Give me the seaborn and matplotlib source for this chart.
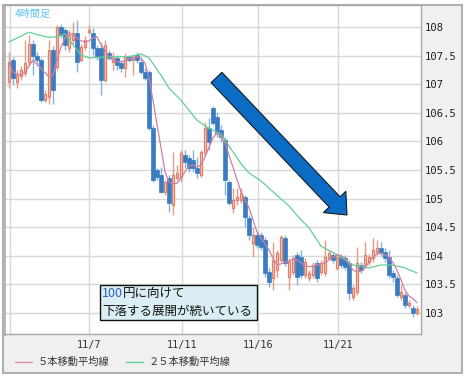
import numpy as np
import pandas as pd
import matplotlib
matplotlib.use("Agg")
import matplotlib.pyplot as plt
import seaborn as sns
from matplotlib.patches import Rectangle, Polygon

# ---------------- data (4h USD/JPY candles) ----------------
opens = [107.04, 107.42, 107.04, 107.14, 107.20, 107.39, 107.70, 107.49, 107.42, 106.72,
         106.78, 107.60, 107.30, 108.00, 107.95, 107.63, 107.77, 107.90, 107.42, 107.65,
         107.91, 107.90, 107.63, 107.63, 107.07, 107.55, 107.39, 107.46, 107.37, 107.28,
         107.48, 107.42, 107.51, 107.39, 107.21, 107.21, 106.23, 105.50, 105.41, 105.12,
         105.36, 104.89, 105.36, 105.38, 105.76, 105.71, 105.68, 105.54, 105.41, 105.80,
         106.23, 106.58, 106.43, 106.20, 106.02, 105.29, 104.84, 104.98, 104.98, 105.03,
         104.66, 104.22, 104.36, 104.36, 104.28, 103.72, 103.61, 103.75, 103.93, 104.31,
         103.63, 103.72, 104.02, 103.98, 103.67, 103.61, 103.67, 103.88, 103.72, 103.70,
         103.96, 104.02, 103.79, 103.98, 103.96, 103.88, 103.28, 103.37, 103.84, 103.84,
         103.89, 103.96, 104.07, 104.14, 104.07, 103.98, 103.70, 103.61, 103.28, 103.32,
         103.14, 103.09, 103.00]
closes = [107.39, 107.11, 107.16, 107.25, 107.37, 107.70, 107.49, 107.42, 106.72, 106.83,
          107.60, 106.90, 108.00, 107.86, 107.69, 107.86, 107.90, 107.39, 107.65, 107.77,
          107.95, 107.63, 107.49, 107.07, 107.69, 107.46, 107.48, 107.34, 107.28, 107.48,
          107.42, 107.48, 107.42, 107.21, 107.11, 106.23, 105.33, 105.38, 105.12, 105.29,
          104.92, 105.41, 105.45, 105.80, 105.64, 105.54, 105.54, 105.45, 105.82, 106.23,
          105.99, 106.32, 106.15, 106.08, 105.33, 104.92, 104.98, 105.03, 105.10, 104.68,
          104.36, 104.36, 104.19, 104.15, 103.70, 103.54, 103.93, 104.05, 104.33, 103.88,
          103.89, 103.96, 103.63, 103.67, 103.89, 103.70, 103.84, 103.61, 103.88, 103.98,
          104.05, 103.93, 103.98, 103.84, 103.81, 103.35, 103.44, 103.88, 103.75, 104.02,
          103.98, 104.10, 104.14, 104.05, 103.96, 103.67, 103.63, 103.32, 103.37, 103.14,
          103.18, 103.00, 103.07]
highs = [107.56, 107.48, 107.25, 107.32, 107.77, 107.86, 107.77, 107.56, 107.46, 106.90,
         107.77, 107.67, 108.03, 108.05, 107.98, 107.95, 108.09, 108.12, 107.70, 107.84,
         108.03, 107.98, 107.69, 107.74, 107.77, 107.60, 107.56, 107.51, 107.42, 107.55,
         107.51, 107.51, 107.56, 107.46, 107.28, 107.25, 106.29, 105.54, 105.55, 105.33,
         105.41, 105.82, 105.59, 105.85, 105.85, 105.76, 105.85, 105.73, 105.85, 106.34,
         106.41, 106.62, 106.51, 106.29, 106.08, 105.33, 105.19, 105.19, 105.19, 105.06,
         104.71, 104.50, 104.42, 104.42, 104.33, 103.79, 104.24, 104.10, 104.36, 104.36,
         103.96, 104.02, 104.07, 104.10, 103.96, 103.75, 103.89, 103.93, 103.93, 104.28,
         104.10, 104.07, 104.03, 104.03, 104.02, 103.93, 103.49, 104.15, 103.89, 104.24,
         104.03, 104.31, 104.28, 104.24, 104.14, 104.10, 103.75, 103.67, 103.49, 103.37,
         103.23, 103.14, 103.12]
lows = [106.93, 106.99, 106.93, 107.07, 107.14, 107.32, 107.16, 107.32, 106.69, 106.69,
        106.65, 106.65, 107.25, 107.81, 107.60, 107.56, 107.70, 107.21, 107.39, 107.60,
        107.88, 107.51, 107.42, 106.81, 107.04, 107.42, 107.25, 107.25, 107.21, 107.13,
        107.39, 107.16, 107.37, 107.18, 107.07, 106.20, 105.29, 105.33, 105.10, 105.06,
        104.77, 104.71, 105.33, 105.29, 105.54, 105.47, 105.47, 105.36, 105.38, 105.75,
        105.85, 106.29, 106.08, 105.99, 105.06, 104.89, 104.75, 104.89, 104.92, 104.50,
        104.28, 103.98, 104.14, 104.10, 103.63, 103.46, 103.40, 103.63, 103.89, 103.82,
        103.40, 103.67, 103.49, 103.61, 103.61, 103.56, 103.61, 103.54, 103.67, 103.65,
        103.93, 103.88, 103.75, 103.79, 103.75, 103.23, 103.23, 103.32, 103.70, 103.79,
        103.84, 103.89, 104.02, 104.00, 103.89, 103.61, 103.54, 103.28, 103.23, 103.09,
        103.09, 102.93, 102.97]

ma5 = [107.37, 107.21, 107.18, 107.16, 107.21, 107.32, 107.42, 107.35, 107.28, 107.20,
       107.13, 107.16, 107.42, 107.65, 107.81, 107.90, 107.86, 107.81, 107.76, 107.74,
       107.76, 107.81, 107.83, 107.69, 107.60, 107.48, 107.42, 107.39, 107.39, 107.41,
       107.44, 107.46, 107.48, 107.46, 107.37, 107.11, 106.72, 106.29, 105.89, 105.47,
       105.29, 105.26, 105.27, 105.36, 105.47, 105.57, 105.59, 105.55, 105.59, 105.73,
       105.90, 106.06, 106.15, 106.09, 105.97, 105.76, 105.55, 105.33, 105.12, 104.98,
       104.84, 104.63, 104.42, 104.31, 104.21, 104.10, 103.96, 103.84, 103.86, 103.89,
       103.91, 103.93, 103.93, 103.88, 103.82, 103.81, 103.82, 103.84, 103.86, 103.88,
       103.93, 103.98, 104.02, 104.00, 103.96, 103.86, 103.75, 103.72, 103.73, 103.79,
       103.89, 103.98, 104.03, 104.05, 104.02, 103.98, 103.88, 103.75, 103.58, 103.40,
       103.30, 103.25, 103.18]

ma25_idx = [0, 3, 5, 8, 10, 12, 14, 16, 18, 20, 25, 30, 33, 35, 38, 40, 43, 47, 50, 53,
            55, 58, 60, 63, 66, 70, 73, 75, 78, 82, 86, 90, 93, 96, 99, 102]
ma25 = [107.74, 107.84, 107.91, 107.85, 107.82, 107.83, 107.88, 107.69, 107.51, 107.46,
        107.48, 107.48, 107.53, 107.46, 107.16, 106.93, 106.72, 106.37, 106.23, 106.13,
        105.92, 105.61, 105.45, 105.31, 105.12, 104.87, 104.63, 104.49, 104.17, 104.02,
        103.84, 103.79, 103.84, 103.84, 103.79, 103.70]

date_labels = ["", "11/7", "11/11", "11/16", "11/21"]
y_ticks = [103, 103.5, 104, 104.5, 105, 105.5, 106, 106.5, 107, 107.5, 108]
title_text = "4時間足"
legend_labels = ["５本移動平均線", "２５本移動平均線"]
note_lines = ["100", "円に向けて", "下落する展開が続いている"]

df = pd.DataFrame({"open": opens, "close": closes, "high": highs, "low": lows})
df["idx"] = np.arange(len(df))
df["ma5"] = ma5
ma25_df = pd.DataFrame({"idx": ma25_idx, "ma25": ma25})

# ---------------- style ----------------
sns.set_theme(style="white")
plt.rcParams["font.family"] = ["Noto Sans CJK JP", "DejaVu Sans"]

W, H = 466, 381
fig = plt.figure(figsize=(W / 100, H / 100), dpi=100)
fig.patch.set_facecolor("white")


def fx(x):
    return x / W


def fy(y):
    return 1 - y / H


# outer grey frame
fig.patches.append(Rectangle((fx(3), fy(373)), fx(462) - fx(3), fy(5) - fy(373),
                             transform=fig.transFigure, facecolor="#f0f0f0",
                             edgecolor="#b0b0b0", lw=1.5, zorder=0))

ax = fig.add_axes([fx(4), fy(334), fx(421) - fx(4), fy(5) - fy(334)])
ax.set_facecolor("white")
ax.set_zorder(1)

UP_EDGE, UP_FILL, UP_WICK = "#e27f66", "#f8d0c3", "#e99a85"
DN_FILL, DN_WICK = "#3a7cbf", "#80b2de"

up = df[df["close"] >= df["open"]]
dn = df[df["close"] < df["open"]]
ax.vlines(up["idx"], up["low"], up["high"], color=UP_WICK, lw=1.0, zorder=2)
ax.vlines(dn["idx"], dn["low"], dn["high"], color=DN_WICK, lw=1.0, zorder=2)
ax.bar(up["idx"], up["close"] - up["open"], bottom=up["open"], width=0.66,
       color=UP_FILL, edgecolor=UP_EDGE, linewidth=0.9, zorder=3)
ax.bar(dn["idx"], dn["close"] - dn["open"], bottom=dn["open"], width=0.78,
       color=DN_FILL, edgecolor=DN_FILL, linewidth=0.5, zorder=3)

sns.lineplot(data=ma25_df, x="idx", y="ma25", ax=ax, color="#62cf97", lw=0.9, zorder=4)
sns.lineplot(data=df, x="idx", y="ma5", ax=ax, color="#cf7fa6", lw=0.9, zorder=4)

ax.set_xlim(-1.25, 103)
ax.set_ylim(102.634, 108.385)
ax.set_xlabel("")
ax.set_ylabel("")

ax.set_xticks([0.25, 20, 43.25, 62.25, 82.25])
ax.set_xticklabels(date_labels)
ax.yaxis.tick_right()
ax.set_yticks(y_ticks)
ax.set_yticklabels([f"{v:g}" for v in y_ticks])
ax.tick_params(axis="x", length=0, pad=4.5, labelsize=7.4, colors="#333333")
ax.tick_params(axis="y", length=0, pad=2.5, labelsize=7.6, colors="#222222")
for lbl in ax.get_xticklabels() + ax.get_yticklabels():
    lbl.set_fontfamily("DejaVu Sans Mono")
ax.grid(True, color="#d8d8d8", lw=1.0, zorder=0)
ax.set_axisbelow(True)

ax.spines["left"].set_color("#b4b4b4")
ax.spines["left"].set_linewidth(2.0)
for s in ["right", "bottom", "top"]:
    ax.spines[s].set_color("#a8a8a8")
    ax.spines[s].set_linewidth(1.0)

# title
fig.text(fx(15), fy(14), title_text, color="#5bc3f2", fontsize=7.3,
         ha="left", va="center", zorder=10)

# big arrow (figure pixel geometry)
tail = np.array([216.5, 77.5])
tip = np.array([347.0, 215.0])
d = (tip - tail) / np.linalg.norm(tip - tail)
n = np.array([d[1], -d[0]])
hb = tip - 18 * d
pts = [tail + 7.5 * n, hb + 7.5 * n, hb + 15.5 * n, tip, hb - 15.5 * n, hb - 7.5 * n, tail - 7.5 * n]
pts = [(fx(p[0]), fy(p[1])) for p in pts]
fig.patches.append(Polygon(pts, closed=True, transform=fig.transFigure,
                           facecolor="#0a6cc4", edgecolor="#1a1a1a", lw=0.8, zorder=20))

# note box
fig.patches.append(Rectangle((fx(100), fy(320)), fx(257) - fx(100), fy(285) - fy(320),
                             transform=fig.transFigure, facecolor="#dbeef4",
                             edgecolor="#111111", lw=1.0, zorder=20))
renderer = fig.canvas.get_renderer()
t1 = fig.text(fx(102), fy(293.5), note_lines[0], color="#2a62c4", fontsize=9.0,
              ha="left", va="center", zorder=21)
bb = t1.get_window_extent(renderer=renderer)
fig.text(bb.x1 / fig.bbox.width, fy(293.5), note_lines[1], color="#111111", fontsize=9.0,
         ha="left", va="center", zorder=21)
fig.text(fx(102), fy(311), note_lines[2], color="#111111", fontsize=9.0,
         ha="left", va="center", zorder=21)

# legend
fig.lines.append(plt.Line2D([fx(15), fx(32)], [fy(362), fy(362)], transform=fig.transFigure,
                            color="#e08aa2", lw=1.0))
fig.text(fx(38), fy(362), legend_labels[0], color="#333333", fontsize=7.4, ha="left", va="center")
fig.lines.append(plt.Line2D([fx(126), fx(143)], [fy(362), fy(362)], transform=fig.transFigure,
                            color="#5ccf94", lw=1.0))
fig.text(fx(149), fy(362), legend_labels[1], color="#333333", fontsize=7.4, ha="left", va="center")

fig.savefig("out.png", dpi=100)
